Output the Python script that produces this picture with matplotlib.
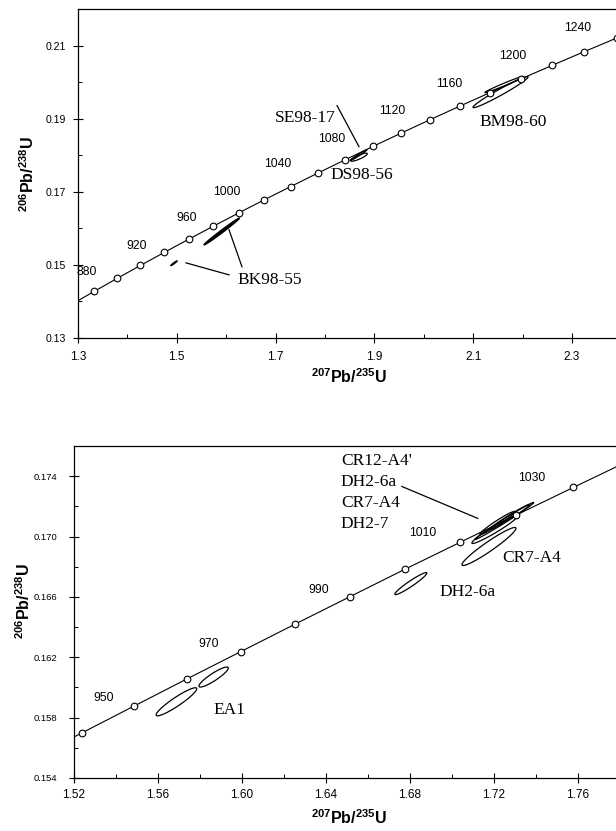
import numpy as np
import matplotlib
matplotlib.use('Agg')
import matplotlib.pyplot as plt
from matplotlib.ticker import MultipleLocator, FormatStrFormatter

plt.rcParams['font.family'] = 'Liberation Sans'
plt.rcParams['mathtext.fontset'] = 'custom'
plt.rcParams['mathtext.rm'] = 'Liberation Sans'
plt.rcParams['mathtext.bf'] = 'Liberation Sans:bold'

# concordia, upper panel (20 Ma steps, 840-1260 Ma)
top_ages = [840, 860, 880, 900, 920, 940, 960, 980, 1000, 1020, 1040,
            1060, 1080, 1100, 1120, 1140, 1160, 1180, 1200, 1220, 1240, 1260]
top_pb207 = [1.2870, 1.3325, 1.3789, 1.4263, 1.4746, 1.5238, 1.5740, 1.6252, 1.6774, 1.7307, 1.7850,
             1.8404, 1.8969, 1.9545, 2.0133, 2.0732, 2.1344, 2.1967, 2.2603, 2.3252, 2.3913, 2.4588]
top_pb206 = [0.13918, 0.14272, 0.14627, 0.14983, 0.15340, 0.15699, 0.16058, 0.16419, 0.16782, 0.17143, 0.17507,
             0.17872, 0.18239, 0.18606, 0.18975, 0.19344, 0.19715, 0.20087, 0.20460, 0.20835, 0.21210, 0.21587]

top_age_text = ['880', '920', '960', '1000', '1040', '1080', '1120', '1160', '1200', '1240']
top_age_x = [1.318, 1.419, 1.519, 1.602, 1.704, 1.814, 1.936, 2.051, 2.181, 2.312]
top_age_y = [0.1481, 0.1552, 0.1629, 0.1700, 0.1777, 0.1845, 0.1922, 0.1996, 0.2070, 0.2147]

# error ellipses: x, y, sx, sy, rho, filled
top_ell_x = [1.4943, 1.5909, 1.8678, 1.8688, 2.1553, 2.1623]
top_ell_y = [0.15044, 0.15912, 0.18000, 0.17946, 0.19726, 0.19932]
top_ell_sx = [0.0064, 0.0358, 0.0172, 0.0168, 0.0557, 0.0385]
top_ell_sy = [0.00064, 0.00366, 0.0015, 0.0011, 0.00425, 0.0022]
top_ell_rho = [0.97, 0.993, 0.985, 0.85, 0.975, 0.985]
top_ell_fill = [True, True, False, False, False, False]

top_samples = ['SE98-17', 'DS98-56', 'BM98-60', 'BK98-55']
top_sample_x = [1.7595, 1.8749, 2.1816, 1.6877]
top_sample_y = [0.19028, 0.17466, 0.18918, 0.14589]

top_leaders = [((1.8243, 1.8688), (0.19357, 0.18233)),
               ((1.5186, 1.6057), (0.15055, 0.14726)),
               ((1.6057, 1.6320), (0.15959, 0.14945))]

# concordia, lower panel (10 Ma steps, 930-1040 Ma)
bot_ages = [930, 940, 950, 960, 970, 980, 990, 1000, 1010, 1020, 1030, 1040]
bot_pb207 = [1.4991, 1.5238, 1.5488, 1.5740, 1.5995, 1.6252, 1.6512, 1.6774, 1.7039, 1.7307, 1.7577, 1.7850]
bot_pb206 = [0.15519, 0.15699, 0.15878, 0.16058, 0.16238, 0.16419, 0.16600, 0.16782, 0.16962, 0.17143, 0.17325, 0.17507]

bot_age_text = ['950', '970', '990', '1010', '1030']
bot_age_x = [1.5342, 1.5839, 1.6367, 1.6862, 1.7381]
bot_age_y = [0.15932, 0.16290, 0.16649, 0.17021, 0.17387]

bot_ell_x = [1.5688, 1.5865, 1.6804, 1.7176, 1.7204, 1.7249, 1.7216, 1.7275]
bot_ell_y = [0.15905, 0.16069, 0.16688, 0.16934, 0.17047, 0.17103, 0.17090, 0.17130]
bot_ell_sx = [0.00967, 0.0070, 0.00762, 0.01286, 0.01095, 0.01404, 0.00833, 0.00952]
bot_ell_sy = [0.00093, 0.000664, 0.00073, 0.00126, 0.00093, 0.00123, 0.000764, 0.00083]
bot_ell_rho = [0.93, 0.90, 0.955, 0.955, 0.965, 0.993, 0.97, 0.985]

bot_samples = ['EA1', 'DH2-6a', 'CR7-A4']
bot_sample_x = [1.5938, 1.7075, 1.7380]
bot_sample_y = [0.15852, 0.16635, 0.16861]

bot_stack = ["CR12-A4'", 'DH2-6a', 'CR7-A4', 'DH2-7']
bot_stack_y = [0.17498, 0.17359, 0.17219, 0.17080]
bot_stack_x = 1.6471
bot_leader = ((1.6761, 1.7123), (0.17332, 0.17120))


def draw_ellipse(ax, x, y, sx, sy, rho, filled=False):
    t = np.linspace(0, 2 * np.pi, 200)
    ex = x + sx * np.cos(t)
    ey = y + sy * (rho * np.cos(t) + np.sqrt(1 - rho ** 2) * np.sin(t))
    if filled:
        ax.fill(ex, ey, color='black', lw=1.0, zorder=3)
    else:
        ax.fill(ex, ey, facecolor='none', edgecolor='black', lw=0.9, zorder=3)


def style_axes(ax, xmaj, xoff, ymaj, yoff, xfmt, yfmt, xpad, ypad, ysize):
    ax.xaxis.set_major_locator(MultipleLocator(xmaj, offset=xoff))
    ax.xaxis.set_minor_locator(MultipleLocator(xmaj / 2))
    ax.yaxis.set_major_locator(MultipleLocator(ymaj, offset=yoff))
    ax.yaxis.set_minor_locator(MultipleLocator(ymaj / 2))
    ax.xaxis.set_major_formatter(FormatStrFormatter(xfmt))
    ax.yaxis.set_major_formatter(FormatStrFormatter(yfmt))
    ax.tick_params(which='major', direction='inout', length=7, width=0.8)
    ax.tick_params(which='minor', direction='in', length=3, width=0.7)
    ax.tick_params(axis='x', which='major', labelsize=8.5, pad=xpad)
    ax.tick_params(axis='y', which='major', labelsize=ysize, pad=ypad)
    ax.spines['right'].set_visible(False)
    for s in ['left', 'bottom', 'top']:
        ax.spines[s].set_linewidth(0.9)


fig = plt.figure(figsize=(6.16, 8.31), dpi=100)

# upper panel
ax1 = fig.add_axes([0.1266, 0.5933, 0.8822, 0.3959])
ax1.plot(top_pb207, top_pb206, '-', color='black', lw=0.8, zorder=2)
ax1.plot(top_pb207, top_pb206, 'o', ms=4.8, mfc='white', mec='black', mew=0.8, zorder=4)
for i in range(len(top_ell_x)):
    draw_ellipse(ax1, top_ell_x[i], top_ell_y[i], top_ell_sx[i], top_ell_sy[i],
                 top_ell_rho[i], top_ell_fill[i])
for i in range(len(top_age_text)):
    ax1.text(top_age_x[i], top_age_y[i], top_age_text[i], fontsize=8.7,
             ha='center', va='center')
for i in range(len(top_samples)):
    ax1.text(top_sample_x[i], top_sample_y[i], top_samples[i], fontsize=12.5,
             family='Liberation Serif', ha='center', va='center')
for lx, ly in top_leaders:
    ax1.plot(lx, ly, '-', color='black', lw=0.9)
ax1.set_xlim(1.3, 2.4)
ax1.set_ylim(0.13, 0.22)
style_axes(ax1, 0.2, 0.1, 0.02, 0.01, '%.1f', '%.2f', 6, 5.4, 7.6)
ax1.set_xlabel(r'$^{\mathbf{207}}\mathbf{Pb/}^{\mathbf{235}}\mathbf{U}$', fontsize=11.5, va='center')
ax1.xaxis.set_label_coords(0.499, -0.1185)
ax1.set_ylabel(r'$^{\mathbf{206}}\mathbf{Pb/}^{\mathbf{238}}\mathbf{U}$', fontsize=11.5, va='center')
ax1.yaxis.set_label_coords(-0.0930, 0.4985)

# lower panel
ax2 = fig.add_axes([0.1201, 0.0638, 0.8864, 0.3995])
ax2.plot(bot_pb207, bot_pb206, '-', color='black', lw=0.8, zorder=2)
ax2.plot(bot_pb207, bot_pb206, 'o', ms=4.8, mfc='white', mec='black', mew=0.8, zorder=4)
for i in range(len(bot_ell_x)):
    draw_ellipse(ax2, bot_ell_x[i], bot_ell_y[i], bot_ell_sx[i], bot_ell_sy[i], bot_ell_rho[i])
for i in range(len(bot_age_text)):
    ax2.text(bot_age_x[i], bot_age_y[i], bot_age_text[i], fontsize=8.7,
             ha='center', va='center')
for i in range(len(bot_samples)):
    ax2.text(bot_sample_x[i], bot_sample_y[i], bot_samples[i], fontsize=12.5,
             family='Liberation Serif', ha='center', va='center')
for i in range(len(bot_stack)):
    ax2.text(bot_stack_x, bot_stack_y[i], bot_stack[i], fontsize=12.5,
             family='Liberation Serif', ha='left', va='center')
ax2.plot(bot_leader[0], bot_leader[1], '-', color='black', lw=0.9)
ax2.set_xlim(1.52, 1.78)
ax2.set_ylim(0.154, 0.176)
style_axes(ax2, 0.04, 0.0, 0.004, 0.002, '%.2f', '%.3f', 4.7, 8.5, 6.8)
ax2.set_xlabel(r'$^{\mathbf{207}}\mathbf{Pb/}^{\mathbf{235}}\mathbf{U}$', fontsize=11.5, va='center')
ax2.xaxis.set_label_coords(0.5037, -0.1205)
ax2.set_ylabel(r'$^{\mathbf{206}}\mathbf{Pb/}^{\mathbf{238}}\mathbf{U}$', fontsize=11.5, va='center')
ax2.yaxis.set_label_coords(-0.0920, 0.533)

fig.savefig('out.png', dpi=100)
